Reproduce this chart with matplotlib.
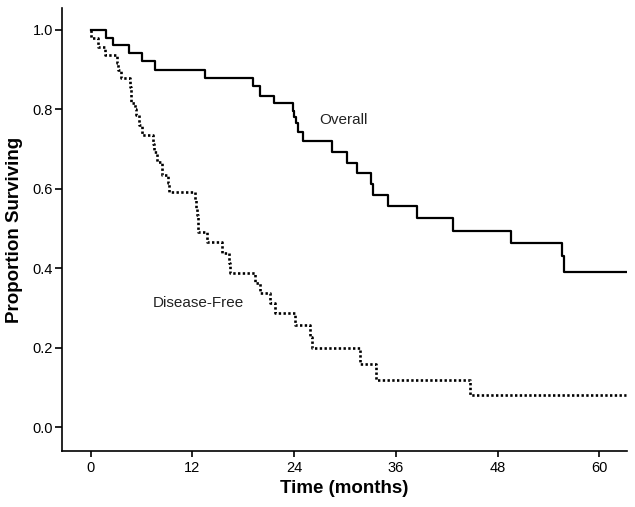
import matplotlib
matplotlib.use("Agg")
import matplotlib.pyplot as plt

plt.rcParams['font.family'] = ['Liberation Sans', 'DejaVu Sans']

# Overall survival: event times (months) and survival after each step
overall_t = [0, 1.8, 2.6, 4.5, 6.0, 7.6, 13.5, 19.2, 20.0, 21.6,
             23.9, 24.0, 24.2, 24.5, 25.1, 28.5, 30.2, 31.4, 33.1, 33.3,
             35.1, 38.5, 42.8, 49.6, 55.6, 55.8, 63.2]
overall_s = [1.0, 0.98, 0.963, 0.942, 0.921, 0.90, 0.88, 0.859, 0.834, 0.815,
             0.795, 0.78, 0.765, 0.744, 0.72, 0.692, 0.664, 0.639, 0.611, 0.584,
             0.557, 0.527, 0.494, 0.463, 0.43, 0.391, 0.391]

# Disease-free survival
dfs_t = [0, 0.05, 0.9, 1.7, 3.1, 3.2, 3.6, 4.6, 4.7, 4.8, 5.2, 5.35, 5.7, 6.0,
         7.35, 7.5, 7.8, 8.35, 8.45, 9.1, 9.2, 12.3, 12.4, 12.5, 12.6, 12.7,
         13.7, 15.5, 16.3, 16.4, 19.4, 19.95, 21.2, 21.7, 24.1, 25.9, 26.1,
         31.8, 33.6, 44.8, 63.2]
dfs_s = [1.0, 0.98, 0.957, 0.937, 0.918, 0.899, 0.878, 0.857, 0.836, 0.815, 0.80, 0.786,
         0.76, 0.735, 0.714, 0.693, 0.668, 0.652, 0.635, 0.614, 0.593, 0.573, 0.553,
         0.533, 0.512, 0.492, 0.467, 0.439, 0.414, 0.389, 0.362, 0.337, 0.312, 0.287,
         0.257, 0.228, 0.199, 0.159, 0.119, 0.081, 0.081]

x_ticks = [0, 12, 24, 36, 48, 60]
y_ticks = [0.0, 0.2, 0.4, 0.6, 0.8, 1.0]

fig = plt.figure(figsize=(6.35, 5.07), dpi=100)
ax = fig.add_axes([0.0984, 0.1105, 0.8886, 0.8735])

ax.step(overall_t, overall_s, where='post', color='black', lw=1.6)
ax.step(dfs_t, dfs_s, where='post', color='black', lw=1.9,
        linestyle=(0, (0.9, 0.9)))

ax.text(27.0, 0.773, 'Overall', fontsize=11, color='#222222', va='center', ha='left')
ax.text(7.3, 0.313, 'Disease-Free', fontsize=11, color='#222222', va='center', ha='left')

ax.set_xlim(-3.34, 63.25)
ax.set_ylim(-0.06, 1.055)
ax.set_xticks(x_ticks)
ax.set_yticks(y_ticks)
ax.set_yticklabels([f'{v:.1f}' for v in y_ticks])

for s in ['top', 'right']:
    ax.spines[s].set_visible(False)
for s in ['left', 'bottom']:
    ax.spines[s].set_linewidth(1.2)

ax.tick_params(axis='x', length=4, width=1.2, labelsize=10.5, pad=3)
ax.tick_params(axis='y', length=5, width=1.2, labelsize=10.5, pad=2)

ax.set_xlabel('Time (months)', fontsize=13.5, fontweight='bold', labelpad=4)
ax.set_ylabel('Proportion Surviving', fontsize=13.5, fontweight='bold', labelpad=7)

fig.savefig('out.png', dpi=100)
